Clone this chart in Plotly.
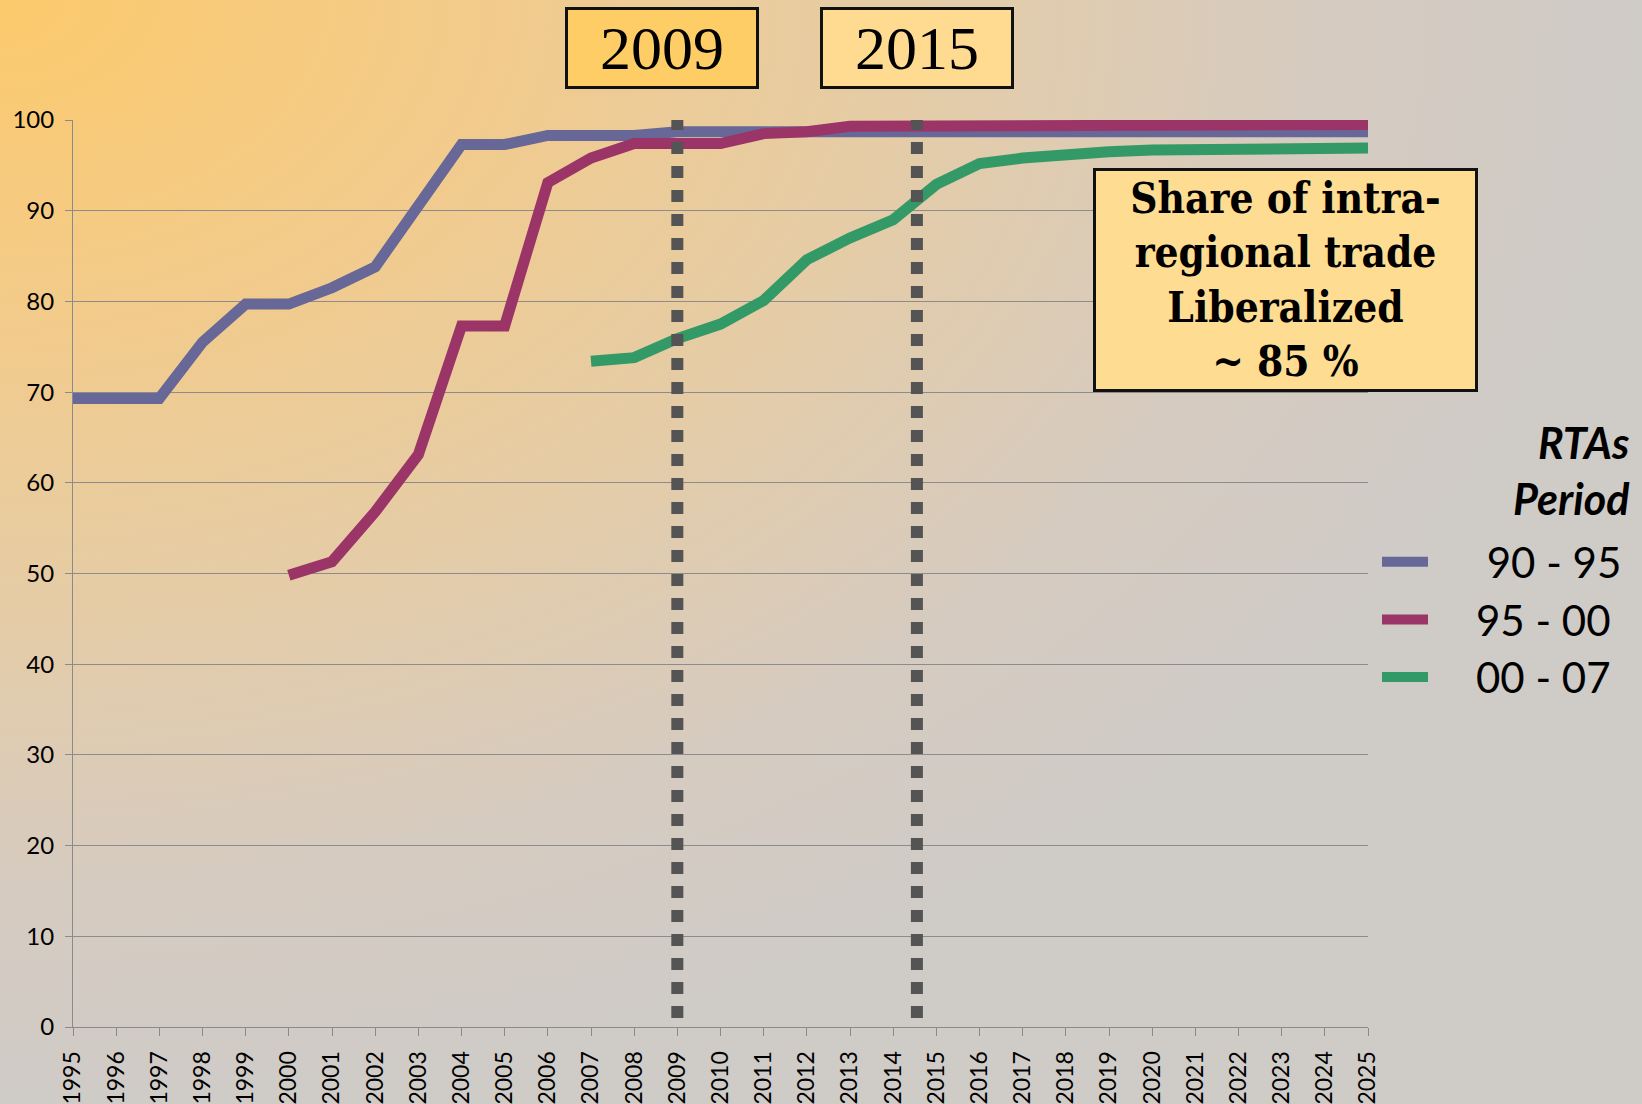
import base64
import plotly.graph_objects as go

# Data
years = list(range(1995, 2026))
rta_90_95 = [69.3, 69.3, 69.3, 75.5, 79.7, 79.7, 81.5, 83.8, 90.5, 97.3,
             97.3, 98.3, 98.3, 98.3, 98.7, 98.7, 98.7, 98.7, 98.7, 98.7,
             98.7, 98.7, 98.7, 98.7, 98.7, 98.7, 98.7, 98.7, 98.7, 98.7, 98.7]
years_95_00 = list(range(2000, 2026))
rta_95_00 = [49.8, 51.3, 56.8, 63.1, 77.3, 77.3, 93.1, 95.8, 97.4, 97.4,
             97.4, 98.5, 98.7, 99.3, 99.3, 99.4, 99.5, 99.5, 99.5, 99.5,
             99.5, 99.5, 99.5, 99.5, 99.5, 99.5]
years_00_07 = list(range(2007, 2026))
rta_00_07 = [73.4, 73.8, 75.9, 77.5, 80.1, 84.6, 87.0, 89.0, 92.9, 95.2,
             95.8, 96.3, 96.5, 96.7, 96.7, 96.7, 96.7, 96.7, 96.9]
series_names = ["\u00a0" * 5 + "90 - 95", "\u00a0" * 4 + "95 - 00", "\u00a0" * 4 + "00 - 07"]
series_colors = ["#676898", "#9b3467", "#339966"]
marker_years = [2009, 2014.55]
marker_labels = ["2009", "2015"]
label_x = [2008.65, 2014.55]
marker_fills = ["#fecd66", "#fedb91"]

# Constants
W, H = 1642, 1104
L, R, T, B = 73, 274, 120, 77
PW, PH = W - L - R, H - T - B


def px(x):
    return (x - L) / PW


def py(y):
    return (H - B - y) / PH


# background gradient as an svg image
svg = f"""<svg xmlns="http://www.w3.org/2000/svg" width="{W}" height="{H}" viewBox="0 0 {W} {H}" preserveAspectRatio="none">
<defs><radialGradient id="g" cx="0" cy="0" r="1" fx="0" fy="0">
<stop offset="0" stop-color="#fcca6c"/>
<stop offset="0.3" stop-color="#f2cb8c"/>
<stop offset="0.55" stop-color="#e5cca6"/>
<stop offset="0.8" stop-color="#d6cbc0"/>
<stop offset="1" stop-color="#cfcbc7"/>
</radialGradient></defs>
<rect width="{W}" height="{H}" fill="url(#g)"/></svg>"""
bg_src = "data:image/svg+xml;base64," + base64.b64encode(svg.encode()).decode()

fig = go.Figure()

for xs, ys, name, color in zip([years, years_95_00, years_00_07],
                               [rta_90_95, rta_95_00, rta_00_07],
                               series_names, series_colors):
    fig.add_trace(go.Scatter(x=xs, y=ys, mode="lines", name=name,
                             line=dict(color=color, width=11)))

for xv in marker_years:
    fig.add_trace(go.Scatter(x=[xv, xv], y=[1, 100], mode="lines",
                             showlegend=False, hoverinfo="skip",
                             line=dict(color="#545454", width=12, dash="12px,12px")))

fig.add_layout_image(
    source=bg_src, xref="paper", yref="paper",
    x=-L / PW, y=1 + T / PH, sizex=W / PW, sizey=H / PH,
    xanchor="left", yanchor="top", sizing="stretch", layer="below",
)

# year boxes
for xv, label, fill in zip(label_x, marker_labels, marker_fills):
    fig.add_annotation(
        x=xv, xref="x", y=py(48), yref="paper", xanchor="center", yanchor="middle",
        text=label, showarrow=False, width=188, height=76,
        bgcolor=fill, bordercolor="#111111", borderwidth=3, borderpad=0,
        font=dict(family="Liberation Serif, Times New Roman, serif", size=62, color="#000000"),
    )

fig.add_annotation(
    x=px(1285), y=py(280), xref="paper", yref="paper",
    xanchor="center", yanchor="middle",
    text="<b>Share of intra-<br>regional trade<br>Liberalized<br>~ 85 %</b>",
    showarrow=False, width=379, height=218, align="center",
    bgcolor="#fedc92", bordercolor="#111111", borderwidth=3, borderpad=0,
    font=dict(family="DejaVu Serif Condensed, DejaVu Serif, serif", size=42, color="#000000"),
)

fig.add_annotation(
    x=px(1632), y=py(471), xref="paper", yref="paper",
    xanchor="right", yanchor="middle", align="right", showarrow=False,
    text="<b><i>RTAs</i></b><br><b><i>Period</i></b>",
    font=dict(family="Lato, Noto Sans, sans-serif", size=43, color="#000000"),
)

fig.update_xaxes(
    range=[1995, 2025], tickvals=years, ticktext=[str(y) for y in years],
    tickangle=-90, ticks="outside", ticklen=8, tickcolor="#8a8a8a",
    showgrid=False, showline=True, linecolor="#8a8a8a", linewidth=1,
    ticklabelstandoff=6, automargin=False,
    tickfont=dict(family="Lato, Noto Sans, sans-serif", size=23, color="#000000"),
    zeroline=False,
)
fig.update_yaxes(
    range=[0, 100], dtick=10, ticks="outside", ticklen=7, tickcolor="#8a8a8a",
    showgrid=True, gridcolor="#8c8c8c", gridwidth=1, ticklabelstandoff=6,
    showline=True, linecolor="#8a8a8a", linewidth=1, zeroline=False,
    automargin=False,
    tickfont=dict(family="Lato, Noto Sans, sans-serif", size=24, color="#000000"),
)

fig.update_layout(
    width=W, height=H,
    margin=dict(l=L, r=R, t=T, b=B),
    paper_bgcolor="rgba(0,0,0,0)", plot_bgcolor="rgba(0,0,0,0)",
    showlegend=True,
    legend=dict(
        x=px(1377), y=py(528), xanchor="left", yanchor="top",
        bgcolor="rgba(0,0,0,0)", itemwidth=46, tracegroupgap=0,
        font=dict(family="Lato, Noto Sans, sans-serif", size=42, color="#000000"),
    ),
)

fig.write_html("out.html", config={"displayModeBar": False},
               post_script="document.body.style.margin='0px';")
